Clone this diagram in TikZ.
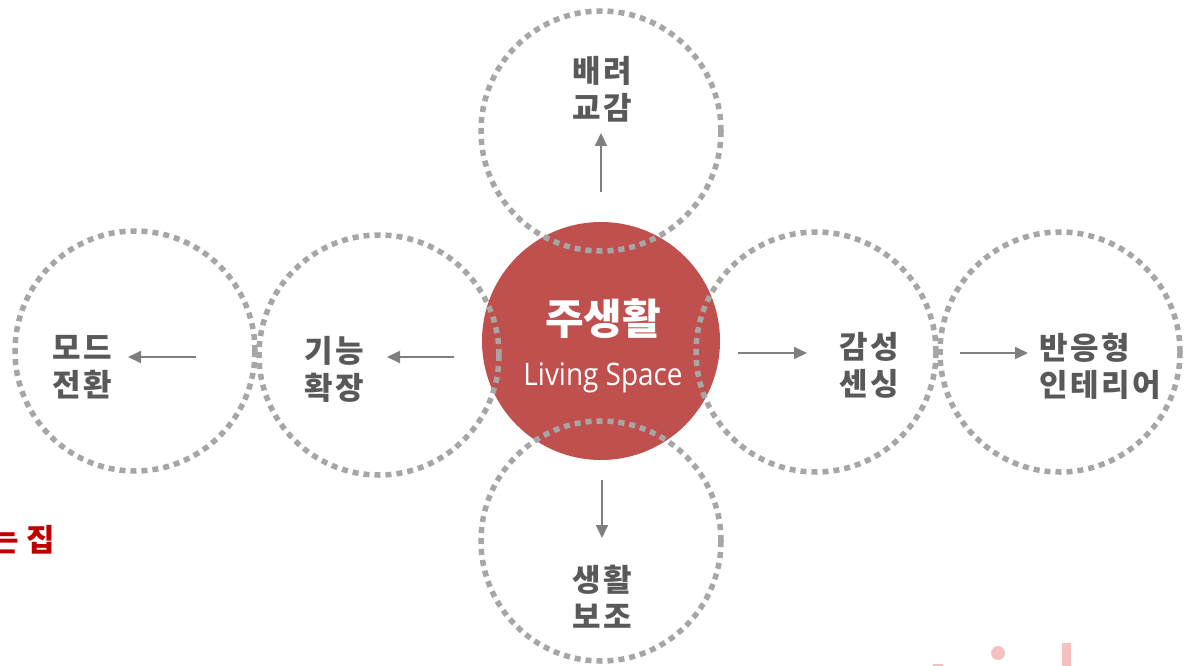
\documentclass[tikz,border=0pt]{standalone}
\usepackage{fontspec}
\setmainfont{Noto Sans CJK KR}
\newfontfamily\krspaced{Noto Sans CJK KR}[LetterSpace=8]
\newfontfamily\latinfont{Open Sans}
\usetikzlibrary{arrows.meta}
\definecolor{redfill}{HTML}{C0504D}
\definecolor{dotgray}{HTML}{A6A6A6}
\definecolor{textgray}{HTML}{595959}
\definecolor{arrowgray}{HTML}{7F7F7F}
\definecolor{darkred}{HTML}{C00000}
\definecolor{softpink}{HTML}{F4C0C0}
\begin{document}
\begin{tikzpicture}[x=1pt,y=-1pt,
  ring/.style={circle, draw=dotgray, line width=5.5pt, dash pattern=on 6pt off 5pt, minimum size=240pt, inner sep=0pt},
  hub/.style={circle, fill=redfill, minimum size=238pt, inner sep=0pt},
  lbl/.style={text=textgray, font=\krspaced\fontsize{31}{37}\selectfont\bfseries, align=center, inner sep=0pt},
  flow/.style={draw=arrowgray, line width=2pt, -{Triangle[length=13pt,width=12pt]}}
]
\useasboundingbox (0,0) rectangle (1194,666);

% centre hub
\node[hub] (hub) at (601,341) {};

% dotted rings
\node[ring] (top) at (601,131) {};
\node[ring] (bottom) at (601,541) {};
\node[ring] (left1) at (379,355) {};
\node[ring] (left2) at (135,351) {};
\node[ring] (right1) at (816,352) {};
\node[ring] (right2) at (1060,352) {};

% hub text
\node[text=white, font=\fontsize{42}{42}\selectfont\bfseries, inner sep=0pt] (hubtitle) at (603,319) {주생활};
\node[text=white, font=\latinfont\fontsize{31}{31}\selectfont, inner sep=0pt, anchor=base] (hubsub) at (603,385) {\scalebox{0.9}[1]{Living Space}};

% labels
\node[lbl] (ttop) at (602,89) {배려\\교감};
\node[lbl] (tleft1) at (334,369) {기능\\확장};
\node[lbl] (tleft2) at (82,367) {모드\\전환};
\node[lbl] (tright1) at (869,365) {감성\\센싱};
\node[lbl, align=left, anchor=west] (tright2) at (1039,366) {반응형\\인테리어};
\node[lbl] (tbottom) at (602,597) {생활\\보조};

% arrows
\coordinate (a1s) at (601,192); \coordinate (a1e) at (601,133);
\coordinate (a2s) at (454,357); \coordinate (a2e) at (387,357);
\coordinate (a3s) at (196,357); \coordinate (a3e) at (128,357);
\coordinate (a4s) at (738,353); \coordinate (a4e) at (807,353);
\coordinate (a5s) at (960,353); \coordinate (a5e) at (1028,353);
\coordinate (a6s) at (602,480); \coordinate (a6e) at (602,538);
\draw[flow] (a1s) -- (a1e);
\draw[flow] (a2s) -- (a2e);
\draw[flow] (a3s) -- (a3e);
\draw[flow] (a4s) -- (a4e);
\draw[flow] (a5s) -- (a5e);
\draw[flow] (a6s) -- (a6e);

% partial red text at left edge
\node[text=darkred, font=\fontsize{31}{31}\selectfont\bfseries, inner sep=0pt, anchor=east] (edgetext) at (55,540) {는 집};

% cropped pink shapes at bottom right
\fill[softpink] (998,653) circle (7);
\fill[softpink] (1062,643) rectangle (1071,666);
\fill[softpink] (933,664) rectangle (943,666);
\end{tikzpicture}
\end{document}
